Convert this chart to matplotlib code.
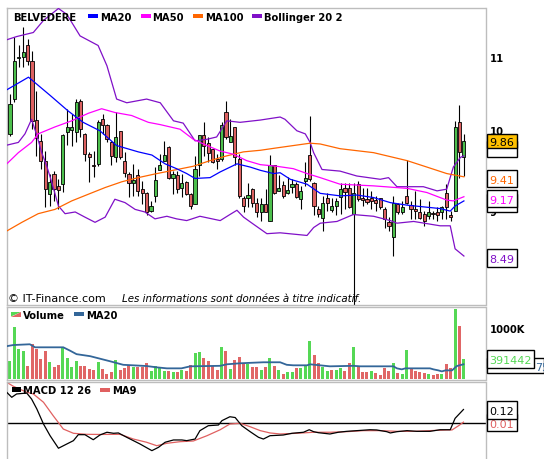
import numpy as np
import matplotlib
matplotlib.use("Agg")
import matplotlib.pyplot as plt
from matplotlib.patches import Rectangle, Polygon
from matplotlib.ticker import NullLocator

plt.rcParams['font.family'] = ['DejaVu Sans']

# daily candles, BELVEDERE (EUR)
opens = [9.95, 10.41, 10.98, 10.99, 11.17, 10.94, 10.13, 9.86, 9.61, 9.20,
         9.45, 9.30, 9.32, 9.98, 10.00, 9.97, 10.39, 9.95, 9.69, 9.56,
         9.57, 10.14, 10.07, 9.85, 9.65, 9.99, 9.60, 9.45, 9.33, 9.43,
         9.26, 9.21, 9.00, 9.18, 9.49, 9.61, 9.78, 9.40, 9.43, 9.27,
         9.35, 9.20, 9.08, 9.55, 9.94, 9.83, 9.76, 9.63, 9.63, 10.24,
         9.85, 10.04, 9.63, 9.16, 9.16, 9.26, 9.09, 8.99, 9.08, 8.88,
         9.55, 9.24, 9.31, 9.21, 9.29, 9.32, 9.14, 9.36, 9.68, 9.33,
         9.03, 8.92, 9.16, 9.01, 9.06, 9.17, 9.27, 9.27, 8.97, 9.32,
         9.15, 9.14, 9.15, 9.13, 9.15, 9.03, 8.87, 8.70, 9.08, 8.99,
         9.18, 9.07, 9.02, 8.99, 8.97, 8.94, 8.98, 8.99, 8.99, 9.21,
         8.96, 9.00, 10.11, 9.65]
highs = [10.48, 11.28, 11.16, 11.43, 11.25, 11.08, 10.52, 9.95, 9.73, 9.45,
         9.48, 9.38, 9.95, 10.28, 10.21, 10.41, 10.41, 9.96, 9.72, 9.73,
         10.13, 10.21, 10.08, 9.86, 10.24, 9.99, 9.72, 9.47, 9.57, 9.51,
         9.36, 9.23, 9.12, 9.53, 9.69, 9.86, 9.79, 9.48, 9.48, 9.45,
         9.36, 9.22, 9.67, 9.94, 10.11, 9.91, 9.76, 9.69, 10.10, 10.39,
         10.14, 10.04, 9.69, 9.18, 9.33, 9.28, 9.16, 9.16, 9.26, 9.68,
         9.56, 9.43, 9.36, 9.41, 9.38, 9.35, 9.30, 9.59, 10.19, 9.35,
         9.06, 9.18, 9.22, 9.16, 9.16, 9.34, 9.34, 9.34, 9.34, 9.36,
         9.28, 9.28, 9.24, 9.18, 9.16, 9.05, 8.93, 9.18, 9.10, 9.12,
         9.62, 9.12, 9.24, 9.14, 9.00, 9.12, 9.00, 9.05, 9.06, 9.32,
         9.00, 10.12, 10.33, 9.95]
lows = [9.92, 10.37, 10.85, 10.85, 10.88, 10.01, 9.67, 9.51, 9.05, 9.06,
        9.12, 9.03, 9.23, 9.81, 9.79, 9.84, 9.91, 9.61, 9.35, 9.41,
        9.54, 9.95, 9.84, 9.55, 9.59, 9.63, 9.41, 9.17, 9.18, 9.18,
        9.08, 8.95, 8.99, 9.11, 9.49, 9.61, 9.38, 9.20, 9.22, 9.17,
        9.19, 9.03, 9.08, 9.42, 9.67, 9.59, 9.58, 9.51, 9.61, 9.88,
        9.84, 9.55, 9.16, 8.99, 9.05, 9.05, 8.93, 8.89, 8.99, 8.88,
        9.20, 9.24, 9.16, 9.20, 9.22, 9.16, 9.03, 9.30, 9.36, 8.95,
        8.93, 8.77, 9.00, 8.99, 8.96, 8.97, 9.03, 9.04, 7.90, 9.12,
        9.06, 9.08, 9.03, 9.00, 9.03, 8.81, 8.77, 8.49, 8.97, 8.97,
        9.08, 8.91, 8.91, 8.91, 8.83, 8.91, 8.91, 8.89, 8.91, 8.91,
        8.88, 9.00, 9.40, 9.42]
closes = [10.34, 10.94, 10.99, 11.07, 10.94, 10.12, 9.90, 9.61, 9.26, 9.35,
          9.26, 9.25, 9.93, 10.04, 10.04, 10.37, 10.01, 9.69, 9.65, 9.54,
          10.10, 10.07, 9.88, 9.67, 9.91, 9.65, 9.46, 9.33, 9.37, 9.24,
          9.21, 8.99, 9.06, 9.37, 9.55, 9.68, 9.40, 9.45, 9.26, 9.33,
          9.20, 9.06, 9.51, 9.94, 9.80, 9.70, 9.59, 9.61, 10.06, 9.91,
          9.92, 9.65, 9.18, 9.06, 9.19, 9.09, 8.99, 9.08, 8.99, 9.56,
          9.21, 9.28, 9.18, 9.25, 9.32, 9.17, 9.24, 9.39, 9.38, 9.06,
          8.97, 9.10, 9.10, 9.06, 9.12, 9.26, 9.23, 9.05, 9.22, 9.14,
          9.13, 9.11, 9.12, 9.10, 9.05, 8.91, 8.83, 9.10, 8.99, 9.05,
          9.10, 9.02, 9.00, 8.92, 8.89, 8.99, 8.97, 8.95, 9.05, 9.05,
          8.93, 10.04, 9.72, 9.86]

# volume in millions of shares, 1 = up day (green)
volumes = [0.36, 1.03, 0.59, 0.55, 0.26, 0.69, 0.59, 0.39, 0.55, 0.34,
           0.24, 0.28, 0.63, 0.41, 0.24, 0.36, 0.26, 0.26, 0.20, 0.18,
           0.34, 0.20, 0.10, 0.14, 0.37, 0.18, 0.22, 0.28, 0.24, 0.24,
           0.24, 0.32, 0.16, 0.26, 0.24, 0.16, 0.16, 0.14, 0.14, 0.18,
           0.16, 0.28, 0.51, 0.53, 0.41, 0.36, 0.26, 0.18, 0.63, 0.55,
           0.20, 0.37, 0.43, 0.31, 0.30, 0.24, 0.24, 0.18, 0.24, 0.41,
           0.26, 0.18, 0.10, 0.14, 0.14, 0.22, 0.22, 0.28, 0.75, 0.47,
           0.32, 0.24, 0.16, 0.18, 0.18, 0.22, 0.16, 0.32, 0.63, 0.24,
           0.14, 0.14, 0.16, 0.12, 0.08, 0.22, 0.16, 0.32, 0.12, 0.10,
           0.57, 0.20, 0.16, 0.14, 0.12, 0.10, 0.08, 0.10, 0.10, 0.30,
           0.22, 1.38, 1.05, 0.391442]
vol_up = [1, 1, 1, 1, 0, 0, 0, 0, 0, 1,
          0, 0, 1, 1, 1, 1, 0, 0, 0, 0,
          1, 0, 0, 0, 1, 0, 0, 0, 1, 0,
          0, 0, 1, 1, 1, 1, 0, 1, 0, 1,
          0, 0, 1, 1, 0, 0, 0, 0, 1, 0,
          1, 0, 0, 0, 1, 0, 0, 1, 0, 1,
          0, 1, 0, 1, 1, 0, 1, 1, 1, 0,
          0, 1, 1, 0, 1, 1, 0, 0, 1, 0,
          0, 0, 1, 0, 0, 0, 0, 1, 0, 1,
          1, 0, 0, 0, 0, 1, 0, 0, 1, 0,
          0, 1, 0, 1]

# indicators (x = session index)
ma20_x = [-0.9, 4.2, 9.1, 13.2, 16.6, 20.4, 24.2, 29.1, 32.2, 35.2, 37.8, 40.1, 42.0,
          45.4, 47.7, 51.5, 54.5, 56.8, 59.8, 61.3, 63.6, 67.4, 70.4, 74.9, 78.7,
          82.5, 86.3, 90.1, 93.8, 97.6, 99.9, 101.0, 103.0]
ma20_y = [10.53, 10.71, 10.46, 10.25, 10.10, 9.99, 9.80, 9.72, 9.68, 9.57, 9.51, 9.45, 9.39,
          9.40, 9.47, 9.57, 9.53, 9.49, 9.45, 9.46, 9.38, 9.32, 9.21, 9.18, 9.19,
          9.16, 9.10, 9.07, 9.05, 9.03, 9.00, 9.06, 9.12]
ma50_x = [-1.1, 1.9, 4.9, 6.4, 10.2, 14.0, 17.8, 20.8, 23.8, 27.6, 31.4, 34.1, 38.6,
          41.6, 44.7, 47.7, 50.7, 53.7, 56.8, 60.5, 64.3, 67.4, 70.4, 74.9, 82.5,
          90.1, 94.6, 99.1, 100.6, 103.0]
ma50_y = [9.55, 9.71, 9.84, 9.95, 10.04, 10.12, 10.22, 10.28, 10.23, 10.19, 10.10, 10.07, 10.01,
          9.88, 9.80, 9.73, 9.69, 9.61, 9.56, 9.54, 9.51, 9.45, 9.40, 9.32, 9.30,
          9.27, 9.22, 9.13, 9.12, 9.17]
ma100_x = [-1.1, 2.7, 6.4, 10.2, 14.0, 17.8, 21.6, 25.4, 29.1, 32.9, 35.2, 41.6, 45.4,
           49.2, 53.0, 56.8, 60.5, 64.3, 68.1, 70.4, 74.9, 82.5, 90.1, 94.6, 99.1, 103.0]
ma100_y = [8.76, 8.87, 8.97, 9.02, 9.12, 9.20, 9.28, 9.35, 9.40, 9.445, 9.47, 9.54, 9.61,
           9.67, 9.72, 9.74, 9.77, 9.80, 9.83, 9.82, 9.76, 9.71, 9.61, 9.53, 9.45, 9.41]
boll_up_x = [-0.9, 1.5, 5.3, 7.6, 11.0, 12.9, 15.9, 20.0, 22.0, 24.2, 26.5, 31.0, 34.1,
             37.1, 39.3, 42.0, 44.7, 46.9, 49.2, 52.2, 56.8, 61.3, 62.4, 65.1, 67.0,
             68.1, 68.9, 70.8, 74.9, 78.7, 84.0, 85.9, 87.8, 93.8, 96.9, 99.1, 100.6,
             102.2, 103.0]
boll_up_y = [11.24, 11.29, 11.35, 11.53, 11.71, 11.62, 11.30, 11.16, 10.87, 10.41, 10.36, 10.41, 10.36,
             10.12, 10.09, 9.86, 9.88, 9.91, 10.12, 10.10, 10.13, 10.17, 10.14, 9.99, 9.95,
             9.84, 9.71, 9.50, 9.48, 9.42, 9.38, 9.40, 9.29, 9.29, 9.24, 9.26, 9.53,
             9.65, 9.67]
boll_lo_x = [-1.1, 1.9, 3.4, 4.9, 6.1, 7.2, 8.3, 9.5, 11.0, 12.5, 14.8, 17.0, 19.3,
             21.6, 23.8, 26.1, 28.4, 30.6, 32.9, 35.6, 37.8, 40.1, 43.1, 47.7, 49.9,
             51.5, 53.0, 55.2, 58.3, 61.3, 67.4, 68.9, 70.4, 74.2, 77.9, 82.5, 86.3,
             87.8, 91.6, 97.6, 99.9, 101.0, 103.0]
boll_lo_y = [9.80, 9.84, 9.95, 10.14, 9.93, 9.71, 9.55, 9.34, 9.06, 8.97, 8.99, 8.93, 8.87,
             8.93, 9.14, 9.10, 9.02, 8.99, 8.91, 8.94, 8.91, 8.89, 8.94, 8.89, 8.96,
             9.01, 8.93, 8.85, 8.74, 8.75, 8.72, 8.81, 8.86, 8.88, 8.96, 8.94, 8.89,
             8.86, 8.88, 8.83, 8.83, 8.57, 8.49]
vma_x = [-0.9, 0.75, 4.5, 5.7, 12.1, 13.6, 15.1, 18.2, 20.0, 22.7, 25.7, 31.0, 33.3,
         35.6, 38.9, 40.9, 47.7, 49.2, 52.2, 57.5, 61.3, 62.8, 64.3, 67.4, 68.1, 72.6,
         77.9, 79.5, 87.0, 87.8, 88.9, 89.7, 95.3, 96.1, 97.2, 98.0, 98.8, 100.3,
         101.4, 102.9]
vma_y = [0.645, 0.67, 0.685, 0.625, 0.625, 0.56, 0.49, 0.45, 0.41, 0.35, 0.28, 0.256, 0.23,
         0.21, 0.21, 0.25, 0.26, 0.29, 0.31, 0.33, 0.33, 0.28, 0.27, 0.27, 0.29, 0.25,
         0.26, 0.25, 0.25, 0.21, 0.19, 0.21, 0.21, 0.19, 0.17, 0.15, 0.17, 0.17,
         0.256, 0.29]
macd_x = [-0.75, 0.4, 1.5, 3.8, 4.9, 6.1, 7.6, 9.1, 11.0, 12.9, 14.4, 15.5, 17.0, 18.9,
          20.4, 22.0, 23.5, 24.6, 26.5, 29.5, 32.2, 33.7, 35.2, 37.1, 39.0, 40.1, 42.0,
          43.1, 45.0, 47.3, 48.1, 49.9, 51.1, 52.6, 54.5, 56.4, 57.5, 59.0, 62.0, 64.0,
          66.6, 67.9, 68.9, 70.0, 72.6, 74.5, 76.4, 78.7, 81.7, 83.2, 85.5, 86.3, 87.8,
          90.1, 92.3, 95.3, 97.6, 99.9, 101.0, 102.9]
macd_y = [0.270, 0.226, 0.255, 0.263, 0.211, 0.124, -0.006, -0.108, -0.217, -0.180, -0.151,
          -0.099, -0.099, -0.143, -0.102, -0.078, -0.087, -0.084, -0.122, -0.180, -0.238,
          -0.209, -0.165, -0.145, -0.145, -0.151, -0.137, -0.064, -0.021, -0.015, 0.023,
          0.057, 0.050, -0.021, -0.073, -0.122, -0.137, -0.108, -0.102, -0.087, -0.078,
          -0.056, -0.073, -0.082, -0.093, -0.078, -0.070, -0.064, -0.056, -0.058, -0.073,
          -0.084, -0.073, -0.064, -0.070, -0.070, -0.056, -0.056, 0.043, 0.12]
sig_x = [-0.75, 0.75, 3.8, 5.3, 7.6, 9.8, 12.1, 14.4, 17.4, 20.4, 25.0, 28.0, 31.0, 33.3,
         35.6, 38.6, 41.6, 44.7, 47.7, 49.9, 52.2, 54.5, 56.8, 59.0, 61.3, 65.1, 68.9,
         72.6, 76.4, 80.2, 84.0, 87.8, 91.6, 95.3, 99.1, 100.3, 101.8, 102.9]
sig_y = [0.357, 0.322, 0.270, 0.255, 0.183, 0.066, -0.050, -0.087, -0.096, -0.097, -0.096,
         -0.137, -0.165, -0.195, -0.174, -0.160, -0.154, -0.108, -0.056, -0.006, 0.0,
         -0.030, -0.064, -0.084, -0.093, -0.087, -0.078, -0.078, -0.073, -0.064, -0.064,
         -0.070, -0.070, -0.064, -0.058, -0.058, -0.021, 0.01]

GREEN, RED = '#4cbf4c', '#dc6060'
VGREEN, VRED = '#55d855', '#e06666'
BLUE, MAGENTA, ORANGE, PURPLE = '#0000ff', '#ff00ff', '#ff6600', '#8010c8'
VMA, SIG, GOLD, FRAME = '#336699', '#e06060', '#ffc000', '#bdbdbd'

W, H = 556, 460
fig = plt.figure(figsize=(W / 100, H / 100), dpi=100)


def rect(l, t, r, b):
    return [l / W, 1 - b / H, (r - l) / W, (b - t) / H]


ax = fig.add_axes(rect(6.5, 9, 485.5, 305.5))
axv = fig.add_axes(rect(6.5, 307.7, 485.5, 381), sharex=ax)
axm = fig.add_axes(rect(6.5, 382.7, 485.5, 462), sharex=ax)

n = len(closes)
idx = np.arange(n)
o = np.array(opens)
c = np.array(closes)
up = c >= o

# --- price panel
ax.vlines(idx, lows, highs, color='black', lw=0.8, zorder=2)
ax.bar(idx, np.abs(c - o), bottom=np.minimum(o, c), width=0.72,
       color=np.where(up, GREEN, RED), edgecolor='black', lw=0.6, zorder=3)
ax.plot(boll_up_x, boll_up_y, color=PURPLE, lw=0.9, zorder=4)
ax.plot(boll_lo_x, boll_lo_y, color=PURPLE, lw=0.9, zorder=4)
ax.plot(ma100_x, ma100_y, color=ORANGE, lw=0.9, zorder=4)
ax.plot(ma50_x, ma50_y, color=MAGENTA, lw=0.9, zorder=4)
ax.plot(ma20_x, ma20_y, color=BLUE, lw=0.9, zorder=4)
ax.set_yscale('log')
ax.set_ylim(7.972, 11.717)
ax.set_xlim(-0.79, 107.9)
ax.yaxis.set_minor_locator(NullLocator())
ax.set_yticks([9, 10, 11])
ax.set_yticklabels(['9', '10', '11'], fontsize=7.2, fontweight='bold')

# --- volume panel
axv.bar(idx, volumes, width=0.68, color=[VGREEN if u else VRED for u in vol_up], zorder=2)
axv.plot(vma_x, vma_y, color=VMA, lw=1.3, zorder=3)
axv.set_ylim(-0.0197, 1.426)
axv.set_yticks([1.0])
axv.set_yticklabels(['1000K'], fontsize=7.2, fontweight='bold')

# --- MACD panel
axm.axhline(0, color='black', lw=1, zorder=1)
axm.plot(sig_x, sig_y, color=SIG, lw=0.9, zorder=2)
axm.plot(macd_x, macd_y, color='black', lw=0.9, zorder=3)
axm.set_ylim(-0.328, 0.3617)
axm.set_yticks([])

for a in (ax, axv, axm):
    a.yaxis.tick_right()
    a.tick_params(axis='y', length=0, pad=3.0)
    a.tick_params(axis='x', bottom=False, labelbottom=False)
    for s in a.spines.values():
        s.set_color(FRAME)
        s.set_linewidth(1)
axm.spines['bottom'].set_visible(False)

# --- overlay in pixel coordinates for legends and value boxes
ov = fig.add_axes([0, 0, 1, 1])
ov.set_xlim(0, W)
ov.set_ylim(H, 0)
ov.axis('off')


def ypix(a, v):
    return H - a.transData.transform((0, v))[1]


def legend_item(x, base, color, label):
    ov.add_patch(Rectangle((x, base - 5.6), 10, 4, color=color, lw=0))
    ov.text(x + 12, base, label, fontsize=7.2, fontweight='bold', va='baseline')


ov.text(13, 20.9, 'BELVEDERE', fontsize=7.2, fontweight='bold', va='baseline')
legend_item(88.3, 20.9, BLUE, 'MA20')
legend_item(140.5, 20.9, MAGENTA, 'MA50')
legend_item(192.7, 20.9, ORANGE, 'MA100')
legend_item(251.7, 20.9, PURPLE, 'Bollinger 20 2')

ov.text(8, 302, '\u00a9 IT-Finance.com', fontsize=8, va='baseline')
ov.text(122.5, 302, 'Les informations sont données à titre indicatif.',
        fontsize=7.4, style='italic', va='baseline')

ov.add_patch(Polygon([(11, 313), (21, 313), (11, 317.5)], closed=True, color=VGREEN, lw=0))
ov.add_patch(Polygon([(21, 313), (21, 317.5), (11, 317.5)], closed=True, color=VRED, lw=0))
ov.text(23.3, 319, 'Volume', fontsize=7.2, fontweight='bold', va='baseline')
legend_item(74, 319, VMA, 'MA20')

ov.add_patch(Rectangle((11.7, 388.2), 9, 4.3, color='black', lw=0))
ov.text(23.3, 394.2, 'MACD 12 26', fontsize=7.2, fontweight='bold', va='baseline')
legend_item(100, 394.2, SIG, 'MA9')

layer = [10]


def value_box(yc, text, color, face='white', h=17.6, right=516.7, tx=489.5):
    z = layer[0]
    layer[0] += 2
    ov.add_patch(Rectangle((487.3, yc - h / 2), right - 487.3, h,
                           facecolor=face, edgecolor='black', lw=1, zorder=z))
    ov.text(tx, yc + 4.0, text, color=color, fontsize=8, va='baseline', zorder=z + 1)


off = 1.8
value_box(ypix(ax, ma20_y[-1]) + off, '%.2f' % ma20_y[-1], BLUE)
value_box(ypix(ax, ma50_y[-1]) + off, '%.2f' % ma50_y[-1], MAGENTA)
value_box(ypix(ax, ma100_y[-1]) + off, '%.2f' % ma100_y[-1], ORANGE)
value_box(ypix(ax, boll_lo_y[-1]) + off, '%.2f' % boll_lo_y[-1], PURPLE)
yc = ypix(ax, closes[-1])
value_box(yc + 8.0, '', 'black', h=16.7)
value_box(yc, '%.2f' % closes[-1], 'black', face=GOLD, h=14.7)

value_box(ypix(axv, vma_y[-1]) + 1.3, '75', VMA, h=15.6, right=543.5, tx=535.5)
value_box(ypix(axv, volumes[-1]), '%d' % round(volumes[-1] * 1e6), VGREEN, h=18.3, right=533.7)
ov.add_patch(Rectangle((544.2, 350), 20, 30, facecolor='white', edgecolor='none', zorder=40))

value_box(ypix(axm, sig_y[-1]) + 0.5, '%.2f' % sig_y[-1], SIG, h=17.4)
value_box(ypix(axm, macd_y[-1]) + 0.7, '%.2f' % macd_y[-1], 'black', h=17.7)

fig.savefig('out.png', dpi=100)
